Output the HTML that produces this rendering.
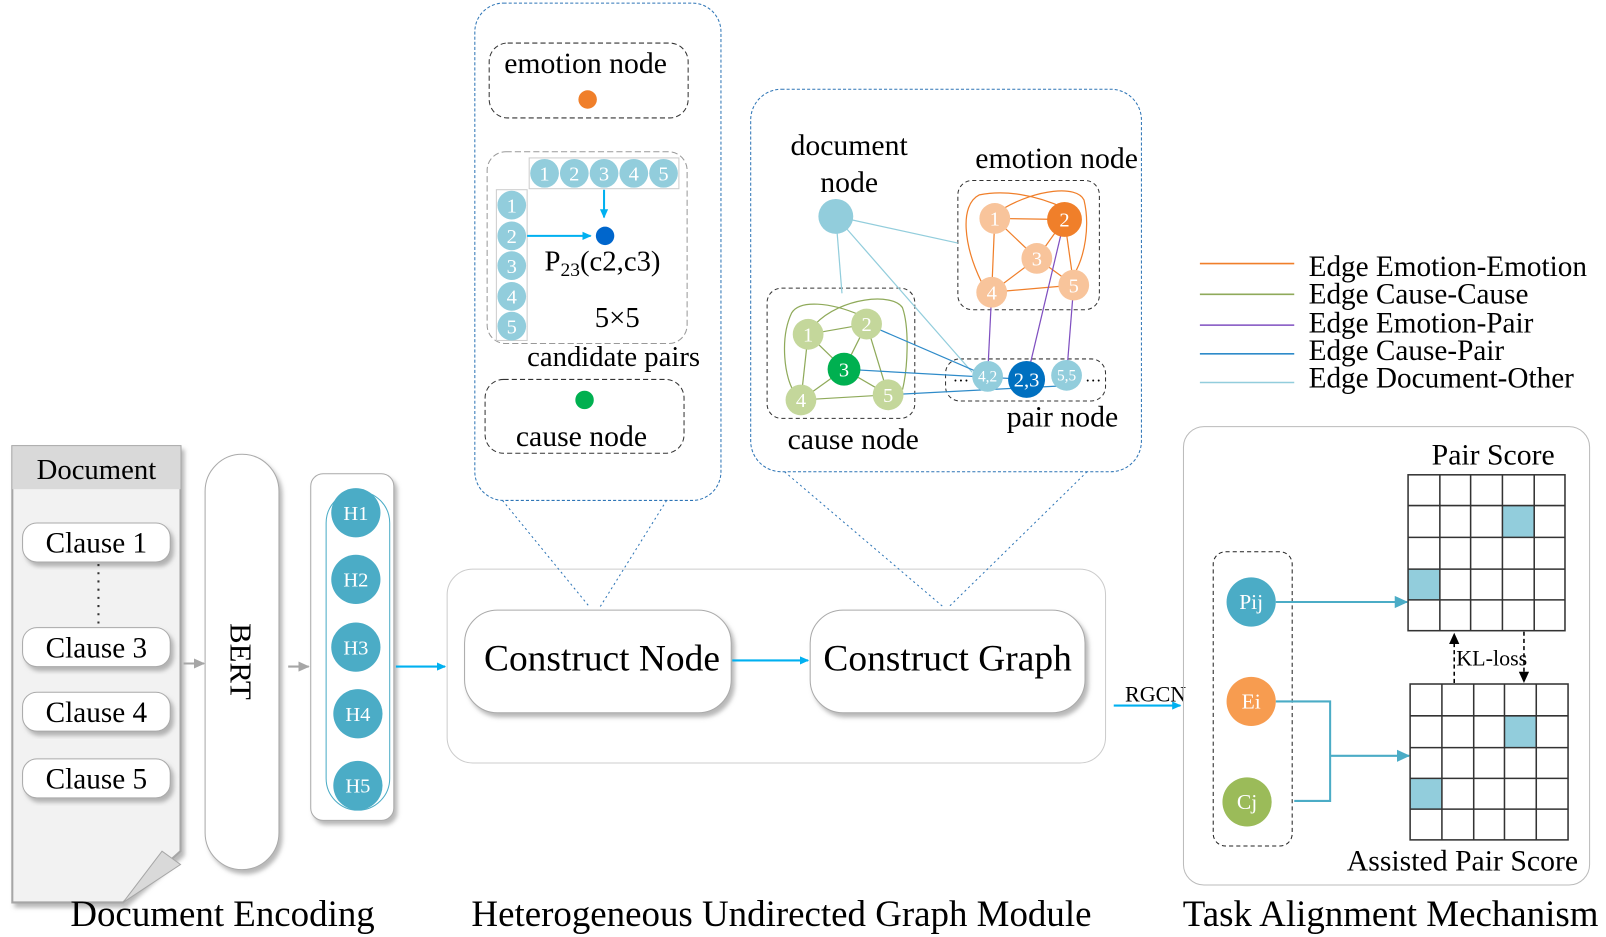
<!DOCTYPE html>
<html><head><meta charset="utf-8"><style>body{margin:0;background:#fff}svg{display:block;font-family:"Liberation Serif",serif}</style></head><body>
<svg width="1606" height="937" viewBox="0 0 1566 913.7" preserveAspectRatio="none" xmlns="http://www.w3.org/2000/svg">
<defs>
<marker id="ab" markerWidth="10" markerHeight="10" refX="8" refY="5" orient="auto" markerUnits="userSpaceOnUse"><path d="M0,1 L9,5 L0,9 Z" fill="#00b0f0"/></marker>
<marker id="ag" markerWidth="12" markerHeight="12" refX="10" refY="6" orient="auto" markerUnits="userSpaceOnUse"><path d="M0,1 L11,6 L0,11 Z" fill="#a6a6a6"/></marker>
<marker id="at" markerWidth="14" markerHeight="14" refX="12" refY="7" orient="auto" markerUnits="userSpaceOnUse"><path d="M0,1 L13,7 L0,13 Z" fill="#4bacc6"/></marker>
<marker id="ak" markerWidth="12" markerHeight="12" refX="10" refY="6" orient="auto" markerUnits="userSpaceOnUse"><path d="M0,1 L11,6 L0,11 Z" fill="#000"/></marker>
<filter id="sh" x="-20%" y="-20%" width="140%" height="140%"><feDropShadow dx="3" dy="4" stdDeviation="2" flood-color="#888" flood-opacity="0.6"/></filter>
</defs>

<path d="M12,435 H176 V830 L120,880 H12 Z" fill="#f2f2f2" stroke="#a6a6a6" stroke-width="2" filter="url(#sh)"/>
<rect x="12" y="435" width="164" height="42" fill="#d9d9d9"/>
<path d="M120,880 L158,830 L176,843 Z" fill="#d9d9d9" stroke="#a6a6a6"/>
<text x="94" y="467" font-size="28" text-anchor="middle">Document</text>
<g font-size="28.5" text-anchor="middle">
<rect x="22" y="510" width="144" height="38" rx="14" fill="#fff" stroke="#aaa" filter="url(#sh)"/><text x="94" y="539">Clause 1</text>
<rect x="22" y="612" width="144" height="38" rx="14" fill="#fff" stroke="#aaa" filter="url(#sh)"/><text x="94" y="641">Clause 3</text>
<rect x="22" y="675" width="144" height="38" rx="14" fill="#fff" stroke="#aaa" filter="url(#sh)"/><text x="94" y="704">Clause 4</text>
<rect x="22" y="740" width="144" height="38" rx="14" fill="#fff" stroke="#aaa" filter="url(#sh)"/><text x="94" y="769">Clause 5</text>
</g>
<line x1="96" y1="550" x2="96" y2="610" stroke="#333" stroke-width="2" stroke-dasharray="2,6"/>
<line x1="179" y1="647" x2="199" y2="647" stroke="#a6a6a6" stroke-width="2" marker-end="url(#ag)"/>
<rect x="200" y="443" width="72" height="405" rx="36" fill="#fff" stroke="#aaa" filter="url(#sh)"/>
<text transform="translate(225,645) rotate(90)" font-size="30" text-anchor="middle">BERT</text>
<line x1="281" y1="650" x2="301" y2="650" stroke="#a6a6a6" stroke-width="2" marker-end="url(#ag)"/>
<rect x="303" y="462" width="81" height="338" rx="12" fill="#fff" stroke="#aaa" filter="url(#sh)"/>
<rect x="318" y="479" width="62" height="311" rx="31" fill="none" stroke="#4bacc6"/>
<g fill="#4bacc6"><circle cx="347" cy="500" r="24"/><circle cx="347" cy="565" r="24"/><circle cx="347" cy="631" r="24"/><circle cx="349" cy="696" r="24"/><circle cx="349" cy="766" r="24"/></g>
<g fill="#fff" font-size="20" text-anchor="middle"><text x="347" y="507">H1</text><text x="347" y="572">H2</text><text x="347" y="638">H3</text><text x="349" y="703">H4</text><text x="349" y="773">H5</text></g>
<line x1="386" y1="650" x2="434" y2="650" stroke="#00b0f0" stroke-width="2" marker-end="url(#ab)"/>

<rect x="436" y="555" width="642" height="189" rx="25" fill="#fff" stroke="#ccc"/>
<g stroke="#2e75b6" stroke-dasharray="2,3" stroke-width="1">
<line x1="490" y1="488" x2="575" y2="592"/><line x1="650" y1="488" x2="585" y2="592"/>
<line x1="765" y1="460" x2="920" y2="592"/><line x1="1060" y1="460" x2="925" y2="592"/>
</g>
<rect x="453" y="595" width="260" height="100" rx="32" fill="#fff" stroke="#aaa" filter="url(#sh)"/>
<text x="587" y="654" font-size="36.5" text-anchor="middle">Construct Node</text>
<line x1="714" y1="644" x2="788" y2="644" stroke="#00b0f0" stroke-width="2" marker-end="url(#ab)"/>
<rect x="790" y="595" width="268" height="100" rx="32" fill="#fff" stroke="#aaa" filter="url(#sh)"/>
<text x="924" y="654" font-size="36.5" text-anchor="middle">Construct Graph</text>

<rect x="463" y="3" width="240" height="485" rx="28" fill="#fff" stroke="#2e75b6" stroke-dasharray="3,2"/>
<rect x="477" y="42" width="194" height="73" rx="18" fill="none" stroke="#333" stroke-dasharray="5,3"/>
<text x="571" y="71" font-size="29" text-anchor="middle">emotion node</text>
<circle cx="573" cy="97" r="9" fill="#f07f2a"/>
<rect x="475" y="148" width="195" height="187" rx="18" fill="none" stroke="#999" stroke-dasharray="6,3"/>
<rect x="516" y="154" width="146" height="30" fill="none" stroke="#ccc"/>
<rect x="484" y="185" width="30" height="147" fill="none" stroke="#ccc"/>
<g fill="#92cddc"><circle cx="531" cy="169" r="14"/><circle cx="560" cy="169" r="14"/><circle cx="589" cy="169" r="14"/><circle cx="618" cy="169" r="14"/><circle cx="647" cy="169" r="14"/>
<circle cx="499" cy="200" r="14"/><circle cx="499" cy="230" r="14"/><circle cx="499" cy="259" r="14"/><circle cx="499" cy="289" r="14"/><circle cx="499" cy="318" r="14"/></g>
<g fill="#fff" font-size="20" text-anchor="middle"><text x="531" y="176">1</text><text x="560" y="176">2</text><text x="589" y="176">3</text><text x="618" y="176">4</text><text x="647" y="176">5</text>
<text x="499" y="207">1</text><text x="499" y="237">2</text><text x="499" y="266">3</text><text x="499" y="296">4</text><text x="499" y="325">5</text></g>
<line x1="589" y1="185" x2="589" y2="212" stroke="#00b0f0" stroke-width="2" marker-end="url(#ab)"/>
<line x1="514" y1="230" x2="576" y2="230" stroke="#00b0f0" stroke-width="2" marker-end="url(#ab)"/>
<circle cx="590" cy="230" r="9" fill="#0066cc"/>
<text x="531" y="264" font-size="28">P<tspan font-size="19" dy="5">23</tspan><tspan dy="-5">(c2,c3)</tspan></text>
<text x="580" y="319" font-size="28">5×5</text>
<text x="514" y="357" font-size="28">candidate pairs</text>
<rect x="473" y="370" width="194" height="72" rx="18" fill="none" stroke="#333" stroke-dasharray="5,3"/>
<circle cx="570" cy="390" r="9" fill="#00b050"/>
<text x="567" y="435" font-size="29" text-anchor="middle">cause node</text>

<rect x="732" y="87" width="381" height="373" rx="30" fill="#fff" stroke="#2e75b6" stroke-dasharray="3,2"/>
<text x="828" y="151" font-size="29" text-anchor="middle">document</text>
<text x="828" y="187" font-size="29" text-anchor="middle">node</text>
<text x="951" y="164" font-size="29">emotion node</text>
<rect x="934" y="176" width="138" height="126" rx="14" fill="none" stroke="#333" stroke-dasharray="4,3"/>
<rect x="748" y="281" width="144" height="127" rx="14" fill="none" stroke="#333" stroke-dasharray="4,3"/>
<rect x="922" y="350" width="156" height="41" rx="14" fill="none" stroke="#333" stroke-dasharray="4,3"/>
<g stroke="#92cddc" stroke-width="1.2">
<line x1="815" y1="211" x2="934" y2="237"/><line x1="815" y1="211" x2="821" y2="286"/><line x1="815" y1="211" x2="948" y2="363"/>
</g>
<g stroke="#f07f2a" stroke-width="1.2" fill="none">
<line x1="970" y1="213" x2="1038" y2="214"/><line x1="970" y1="213" x2="1011" y2="252"/><line x1="970" y1="213" x2="967" y2="285"/>
<line x1="1011" y1="252" x2="967" y2="285"/><line x1="1011" y1="252" x2="1038" y2="214"/><line x1="1011" y1="252" x2="1047" y2="278"/>
<line x1="1038" y1="214" x2="1047" y2="278"/><line x1="967" y1="285" x2="1047" y2="278"/>
<path d="M979,203 C1010,185 1050,180 1057,195 C1063,220 1058,250 1047,268"/>
<path d="M1038,203 C1010,190 980,185 955,190 C935,200 940,240 957,275"/>
</g>
<g stroke="#8faa5a" stroke-width="1.2" fill="none">
<line x1="788" y1="326" x2="845" y2="316"/><line x1="788" y1="326" x2="823" y2="360"/><line x1="788" y1="326" x2="781" y2="390"/>
<line x1="845" y1="316" x2="866" y2="385"/><line x1="845" y1="316" x2="823" y2="360"/><line x1="823" y1="360" x2="781" y2="390"/>
<line x1="823" y1="360" x2="866" y2="385"/><line x1="781" y1="390" x2="866" y2="385"/>
<path d="M795,316 C820,290 870,285 880,300 C887,320 885,360 880,380"/>
<path d="M838,307 C810,295 780,292 772,305 C760,330 765,370 775,383"/>
</g>
<g stroke="#7f4fc0" stroke-width="1.2"><line x1="967" y1="285" x2="963" y2="367"/><line x1="1038" y1="214" x2="1001" y2="370"/><line x1="1047" y1="278" x2="1040" y2="366"/></g>
<g stroke="#2e8bc9" stroke-width="1.2"><line x1="845" y1="316" x2="963" y2="367"/><line x1="823" y1="360" x2="1001" y2="370"/><line x1="866" y1="385" x2="1040" y2="376"/></g>
<circle cx="815" cy="211" r="17" fill="#92cddc"/>
<g fill="#f8c49b"><circle cx="970" cy="213" r="15"/><circle cx="1011" cy="252" r="15"/><circle cx="967" cy="285" r="15"/><circle cx="1047" cy="278" r="15"/></g>
<circle cx="1038" cy="214" r="17" fill="#f07f2a"/>
<g fill="#c4d79b"><circle cx="788" cy="326" r="15"/><circle cx="845" cy="316" r="15"/><circle cx="781" cy="390" r="15"/><circle cx="866" cy="385" r="15"/></g>
<circle cx="823" cy="360" r="16" fill="#00b050"/>
<circle cx="963" cy="367" r="15" fill="#92cddc"/><circle cx="1040" cy="366" r="15" fill="#92cddc"/>
<circle cx="1001" cy="370" r="18" fill="#0070c0"/>
<g fill="#fff" font-size="20" text-anchor="middle">
<text x="970" y="220">1</text><text x="1038" y="221">2</text><text x="1011" y="259">3</text><text x="967" y="292">4</text><text x="1047" y="285">5</text>
<text x="788" y="333">1</text><text x="845" y="323">2</text><text x="823" y="367">3</text><text x="781" y="397">4</text><text x="866" y="392">5</text>
<text x="963" y="372" font-size="15">4,2</text><text x="1001" y="377">2,3</text><text x="1040" y="371" font-size="15">5,5</text></g>
<text x="929" y="372" font-size="16">…</text><text x="1058" y="372" font-size="16">…</text>
<text x="832" y="438" font-size="29" text-anchor="middle">cause node</text>
<text x="1036" y="416" font-size="29" text-anchor="middle">pair node</text>

<g stroke-width="1.5">
<line x1="1170" y1="257" x2="1262" y2="257" stroke="#f07f2a"/>
<line x1="1170" y1="287" x2="1262" y2="287" stroke="#8faa5a"/>
<line x1="1170" y1="317" x2="1262" y2="317" stroke="#7f4fc0"/>
<line x1="1170" y1="345" x2="1262" y2="345" stroke="#2e8bc9"/>
<line x1="1170" y1="373" x2="1262" y2="373" stroke="#92cddc"/>
</g>
<g font-size="28.5"><text x="1276" y="269">Edge Emotion-Emotion</text><text x="1276" y="296">Edge Cause-Cause</text><text x="1276" y="324">Edge Emotion-Pair</text><text x="1276" y="351">Edge Cause-Pair</text><text x="1276" y="378">Edge Document-Other</text></g>

<text x="1097" y="684" font-size="21.5">RGCN</text>
<line x1="1086" y1="688" x2="1151" y2="688" stroke="#00b0f0" stroke-width="2" marker-end="url(#ab)"/>
<rect x="1154" y="416" width="396" height="447" rx="20" fill="none" stroke="#bbb"/>
<rect x="1183" y="538" width="77" height="287" rx="12" fill="none" stroke="#222" stroke-dasharray="4,3"/>
<g fill="none" stroke="#4bacc6" stroke-width="2">
<line x1="1244" y1="587" x2="1372" y2="587" marker-end="url(#at)"/>
<polyline points="1244,684 1297,684 1297,781 1262,781"/>
<line x1="1297" y1="737" x2="1374" y2="737" marker-end="url(#at)"/>
</g>
<circle cx="1220" cy="587" r="24" fill="#4bacc6"/><circle cx="1220" cy="684" r="24" fill="#f79c50"/><circle cx="1216" cy="782" r="24" fill="#9bbb59"/>
<g fill="#fff" font-size="21" text-anchor="middle"><text x="1220" y="594">Pij</text><text x="1220" y="691">Ei</text><text x="1216" y="789">Cj</text></g>
<text x="1456" y="453" font-size="29" text-anchor="middle">Pair Score</text>
<text x="1426" y="849" font-size="29" text-anchor="middle">Assisted Pair Score</text>
<rect x="1465" y="493" width="31" height="31" fill="#92cddc"/><rect x="1373" y="555" width="31" height="30" fill="#92cddc"/>
<rect x="1467" y="698" width="31" height="31" fill="#92cddc"/><rect x="1375" y="759" width="31" height="30" fill="#92cddc"/>
<g stroke="#333" stroke-width="1.5" fill="none">
<rect x="1373" y="463" width="153" height="152"/>
<path d="M1404,463V615M1434,463V615M1465,463V615M1496,463V615M1373,493H1526M1373,524H1526M1373,555H1526M1373,585H1526"/>
<rect x="1375" y="667" width="154" height="152"/>
<path d="M1406,667V819M1437,667V819M1467,667V819M1498,667V819M1375,698H1529M1375,729H1529M1375,759H1529M1375,789H1529"/>
</g>
<g stroke="#000" stroke-width="1.5" stroke-dasharray="4,3"><line x1="1418" y1="666" x2="1418" y2="618" marker-end="url(#ak)"/><line x1="1486" y1="616" x2="1486" y2="665" marker-end="url(#ak)"/></g>
<text x="1420" y="649" font-size="21.5">KL-loss</text>

<g font-size="36" text-anchor="middle"><text x="217" y="903">Document Encoding</text><text x="762" y="903">Heterogeneous Undirected Graph Module</text><text x="1356" y="903">Task Alignment Mechanism</text></g>
</svg>
</body></html>
